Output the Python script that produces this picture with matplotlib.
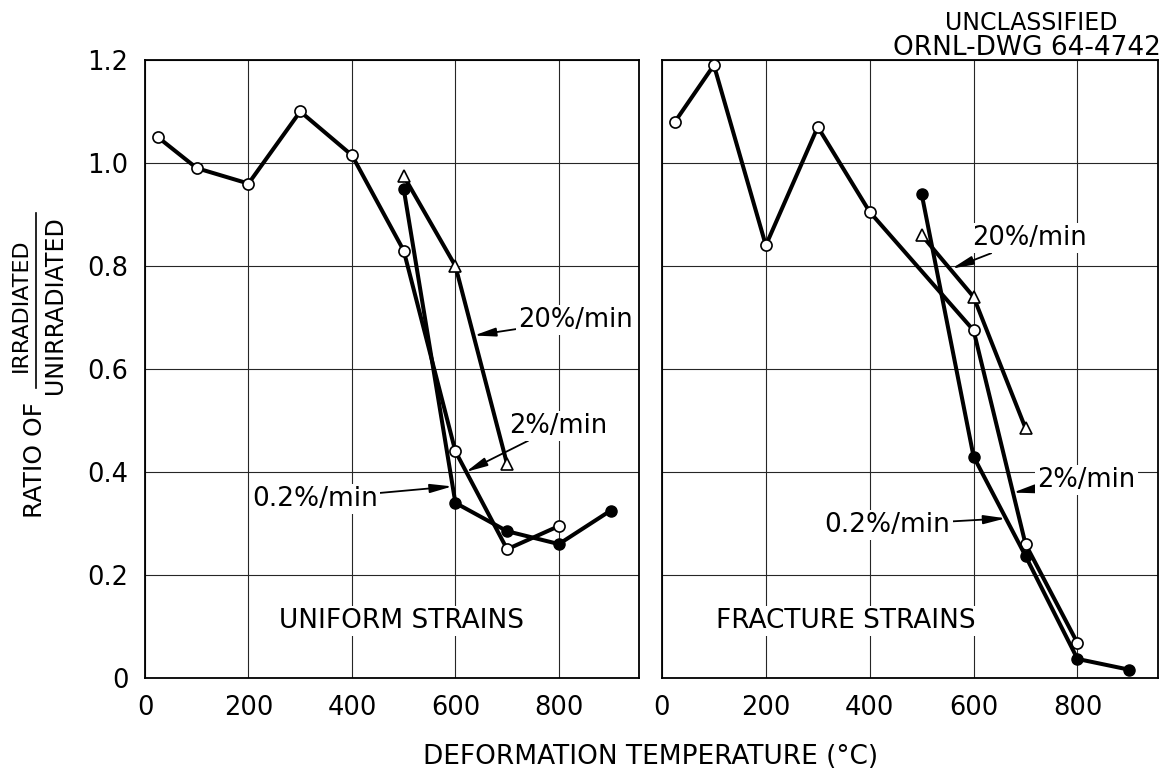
import matplotlib
matplotlib.use("Agg")
import matplotlib.pyplot as plt
from matplotlib.lines import Line2D

plt.rcParams["font.family"] = ["DejaVu Sans"]

# uniform strains (left panel)
uni_2_x = [25, 100, 200, 300, 400, 500, 600, 700, 800]
uni_2_y = [1.05, 0.99, 0.96, 1.10, 1.015, 0.83, 0.44, 0.25, 0.295]
uni_02_x = [500, 600, 700, 800, 900]
uni_02_y = [0.95, 0.34, 0.285, 0.26, 0.325]
uni_20_x = [500, 600, 700]
uni_20_y = [0.975, 0.80, 0.415]

# fracture strains (right panel)
fra_2_x = [25, 100, 200, 300, 400, 600, 700, 800]
fra_2_y = [1.08, 1.19, 0.84, 1.07, 0.905, 0.675, 0.26, 0.068]
fra_02_x = [500, 600, 700, 800, 900]
fra_02_y = [0.94, 0.43, 0.237, 0.037, 0.016]
fra_20_x = [500, 600, 700]
fra_20_y = [0.86, 0.74, 0.485]

xticks = [0, 200, 400, 600, 800]
yticks = [0, 0.2, 0.4, 0.6, 0.8, 1.0, 1.2]
ytick_labels = ["0", "0.2", "0.4", "0.6", "0.8", "1.0", "1.2"]

fig = plt.figure(figsize=(11.64, 7.70), dpi=100)
ax1 = fig.add_axes([0.1246, 0.1195, 0.4244, 0.8026])
ax2 = fig.add_axes([0.5687, 0.1195, 0.4261, 0.8026])

lw = 2.9
ms = 8


def draw_panel(ax, x2, y2, x02, y02, x20, y20):
    ax.plot(x2, y2, color="black", lw=lw, marker="o", ms=ms,
            mfc="white", mec="black", mew=1.2, zorder=3)
    ax.plot(x02, y02, color="black", lw=lw, marker="o", ms=ms,
            mfc="black", mec="black", zorder=3)
    ax.plot(x20, y20, color="black", lw=lw, marker="^", ms=ms,
            mfc="white", mec="black", mew=1.2, zorder=3)
    ax.set_xlim(0, 955)
    ax.set_ylim(0, 1.2)
    ax.set_xticks(xticks)
    ax.set_xticklabels([str(t) for t in xticks])
    ax.set_yticks(yticks)
    ax.grid(True, color="0.15", lw=0.8)
    ax.set_axisbelow(True)
    ax.tick_params(length=0, labelsize=18.5, pad=12)
    for s in ax.spines.values():
        s.set_linewidth(1.3)


draw_panel(ax1, uni_2_x, uni_2_y, uni_02_x, uni_02_y, uni_20_x, uni_20_y)
draw_panel(ax2, fra_2_x, fra_2_y, fra_02_x, fra_02_y, fra_20_x, fra_20_y)
ax1.set_yticklabels(ytick_labels)
ax2.set_yticklabels([])

arrow = dict(arrowstyle="-|>,head_length=0.7,head_width=0.14", lw=1.3,
             color="black", shrinkA=0, shrinkB=0)
box = dict(facecolor="white", edgecolor="none", pad=1.5)


def label(ax, text, txy, tip, size=18.5):
    ax.annotate(text, xy=tip, xytext=txy, ha="left", va="center",
                fontsize=size, bbox=box, arrowprops=arrow, zorder=5)


label(ax1, "20%/min", (721, 0.695), (636, 0.665))
label(ax1, "2%/min", (704, 0.49), (620, 0.40))
label(ax1, "0.2%/min", (207, 0.348), (594, 0.372), 19)
label(ax2, "20%/min", (598, 0.854), (558, 0.795))
label(ax2, "2%/min", (723, 0.384), (676, 0.36))
label(ax2, "0.2%/min", (313, 0.297), (662, 0.31), 19)

ax1.text(495, 0.11, "UNIFORM STRAINS", ha="center", va="center",
         fontsize=19, bbox=box, zorder=4)
ax2.text(354, 0.11, "FRACTURE STRAINS", ha="center", va="center",
         fontsize=19, bbox=box, zorder=4)

fig.text(0.559, 0.017, "DEFORMATION TEMPERATURE (°C)", ha="center",
         va="center", fontsize=19)
fig.text(0.886, 0.970, "UNCLASSIFIED", ha="center", va="center", fontsize=17)
fig.text(0.997, 0.938, "ORNL-DWG 64-4742", ha="right", va="center",
         fontsize=19)

# y label: RATIO OF IRRADIATED / UNIRRADIATED
fig.text(0.030, 0.4026, "RATIO OF", rotation=90, ha="center", va="center",
         fontsize=18)
fig.text(0.018, 0.604, "IRRADIATED", rotation=90, ha="center", va="center",
         fontsize=16)
fig.text(0.047, 0.604, "UNIRRADIATED", rotation=90, ha="center", va="center",
         fontsize=17)
fig.add_artist(Line2D([0.031, 0.031], [0.496, 0.723], color="black", lw=1.2,
                      transform=fig.transFigure))

fig.savefig("out.png", dpi=100)
